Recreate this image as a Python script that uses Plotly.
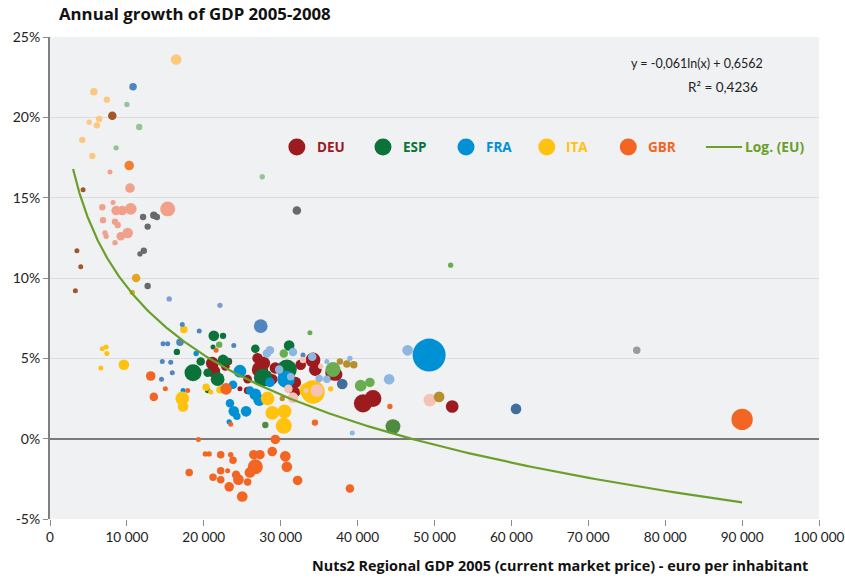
import numpy as np
import plotly.graph_objects as go

# GDP per inhabitant 2005 (euro), annual GDP growth 2005-2008 (%), population (millions)
deu_x = [21100, 21300, 22800, 23200, 24700, 25700, 25700, 27000, 27300, 27800, 28200, 28900,
         29300, 30600, 30800, 31900, 32000, 32600, 34200, 34500, 36800, 37200, 40700, 42000,
         52300, 30800, 31700]
deu_y = [4.7, 4.2, 4.5, 4.8, 3.1, 3.7, 3.0, 5.0, 4.3, 4.7, 3.9, 3.7,
         4.4, 4.3, 3.7, 3.5, 2.9, 4.6, 4.9, 4.3, 4.1, 4.0, 2.2, 2.5,
         2.0, 3.6, 3.0]
deu_pop = [1.7, 1.7, 0.8, 0.6, 0.2, 0.8, 0.6, 1.2, 2.8, 1.7, 1.2, 1.2,
           1.4, 1.0, 1.0, 1.4, 0.8, 1.2, 2.3, 1.7, 2.5, 1.7, 3.5, 3.0,
           1.7, 1.0, 1.0]

esp_x = [21300, 22500, 16500, 19600, 18600, 20500, 21800, 22500, 23100, 20500, 26700, 31100,
         27700, 30800, 21200]
esp_y = [6.4, 6.4, 5.4, 4.8, 4.1, 4.1, 3.7, 4.9, 4.8, 3.0, 5.6, 5.8,
         3.8, 4.3, 5.7]
esp_pop = [1.2, 0.43, 0.43, 0.77, 3.06, 0.77, 2.0, 1.2, 0.6, 0.3, 0.77, 1.2,
           3.5, 4.2, 0.05]

fra_x = [19000, 24700, 23400, 23900, 24300, 25500, 23800, 26000, 26700, 27200, 30700, 23300,
         49300, 17300, 28600]
fra_y = [5.3, 4.2, 2.2, 1.7, 1.4, 1.7, 3.35, 3.0, 2.75, 2.4, 3.7, 1.05,
         5.2, 3.0, 3.5]
fra_pop = [0.3, 1.7, 0.77, 1.2, 0.59, 1.2, 0.77, 0.77, 1.45, 1.45, 3.2, 0.3,
           11.5, 0.2, 1.0]

ita_x = [17400, 20300, 20900, 22100, 17200, 17300, 28300, 28900, 30500, 30400, 33400, 34200,
         36500, 9600, 6800, 7300, 7400, 6600]
ita_y = [6.8, 3.2, 2.9, 3.05, 2.5, 2.0, 2.5, 1.6, 1.7, 0.8, 3.0, 2.9,
         3.1, 4.6, 5.6, 5.7, 5.3, 4.4]
ita_pop = [0.59, 0.59, 0.19, 0.59, 2.0, 1.2, 2.0, 2.0, 2.0, 2.7, 2.3, 5.8,
           0.3, 1.2, 0.15, 0.15, 0.15, 0.1]

gbr_x = [13100, 13500, 15000, 17900, 22900, 21600, 23500, 34450, 44200, 90000, 19300, 29300,
         20200, 20700, 22200, 23500, 23800, 26500, 27300, 28900, 30600, 30800, 18100, 22200,
         23100, 21200, 22200, 24200, 24500, 26700, 26000, 25700, 23300, 25000, 32200, 39000]
gbr_y = [3.9, 2.6, 3.1, 3.0, 3.1, 5.5, 0.9, 1.0, 2.0, 1.2, -0.05, -0.05,
         -0.95, -0.95, -1.0, -1.0, -1.35, -1.0, -1.0, -0.8, -1.1, -1.75, -2.1, -2.0,
         -2.0, -2.4, -2.55, -2.25, -2.55, -1.75, -2.1, -2.7, -3.0, -3.6, -2.6, -3.1]
gbr_pop = [0.97, 0.77, 0.19, 0.19, 1.45, 0.1, 0.19, 0.43, 0.3, 4.8, 0.1, 0.97,
           0.3, 0.3, 0.59, 0.3, 0.59, 0.97, 0.97, 0.97, 1.2, 1.2, 0.59, 0.59,
           0.19, 0.59, 0.59, 0.77, 1.2, 2.35, 1.2, 0.59, 0.97, 1.2, 0.97, 0.77]

# other EU regions, grouped by colour
lightorange_x = [16400, 5700, 7400, 6400, 5100, 6100, 4200, 5500]
lightorange_y = [23.6, 21.6, 21.1, 19.9, 19.7, 19.5, 18.6, 17.6]
lightorange_pop = [1.2, 0.59, 0.43, 0.43, 0.3, 0.43, 0.43, 0.43]

lightgreen_x = [10000, 11600, 8600, 27600]
lightgreen_y = [20.8, 19.4, 18.1, 16.3]
lightgreen_pop = [0.3, 0.43, 0.3, 0.3]

brown_x = [8100, 4300, 3500, 4000, 3300]
brown_y = [20.1, 15.5, 11.7, 10.7, 9.2]
brown_pop = [0.77, 0.1, 0.15, 0.15, 0.08]

orange2_x = [10300]
orange2_y = [17.0]
orange2_pop = [0.97]

salmon_x = [7800, 10400, 15300, 10500, 8600, 9400, 6800, 8200, 6900, 8450, 8800, 10100,
            9200, 7150, 7300, 8450]
salmon_y = [16.6, 15.6, 14.3, 14.3, 14.2, 14.2, 14.4, 14.7, 13.6, 13.5, 13.3, 12.8,
            12.6, 12.8, 12.6, 12.2]
salmon_pop = [0.19, 0.97, 2.35, 1.45, 0.97, 0.97, 0.43, 0.19, 0.43, 0.43, 0.43, 1.2,
              0.77, 0.3, 0.3, 0.3]

darkgray_x = [12100, 13500, 13900, 12700, 12200, 11700, 12700, 32100]
darkgray_y = [13.8, 13.9, 13.8, 13.2, 11.7, 11.5, 9.5, 14.2]
darkgray_pop = [0.43, 0.59, 0.43, 0.43, 0.43, 0.3, 0.43, 0.77]

lightgray_x = [76300]
lightgray_y = [5.5]
lightgray_pop = [0.59]

goldyellow_x = [11200, 10700]
goldyellow_y = [10.0, 9.1]
goldyellow_pop = [0.77, 0.3]

periwinkle_x = [15500, 22100]
periwinkle_y = [8.7, 8.3]
periwinkle_pop = [0.3, 0.3]

steelblue_x = [10800, 27400, 17200, 19400, 14700, 15300, 16900, 23900, 14600, 15700, 15900,
               14500, 32900]
steelblue_y = [21.9, 7.0, 7.1, 6.7, 5.9, 5.9, 6.0, 5.8, 4.8, 4.75, 4.1, 3.7, 5.2]
steelblue_pop = [0.59, 2.0, 0.05, 0.1, 0.19, 0.19, 0.59, 0.19, 0.1, 0.19, 0.19, 0.08, 0.25]

lightblue_x = [28200, 28600, 31600, 29800, 31300, 34100, 36000, 39000, 44100, 46500, 35000,
               39300, 36000]
lightblue_y = [5.3, 5.5, 5.4, 4.3, 3.85, 5.1, 3.7, 5.0, 3.7, 5.5, 3.75, 0.35, 4.8]
lightblue_pop = [0.77, 0.77, 0.77, 0.77, 0.59, 0.77, 0.59, 0.3, 1.2, 1.2, 0.59, 0.02, 0.25]

palepink_x = [31000, 31600, 34700, 49400, 32900, 35200, 33300]
palepink_y = [3.1, 2.55, 3.0, 2.4, 4.9, 4.5, 3.0]
palepink_pop = [0.77, 1.2, 1.7, 1.72, 0.43, 0.3, 0.2]

gold_x = [37700, 38600, 39500, 50600, 30200]
gold_y = [4.8, 4.65, 4.6, 2.6, 2.5]
gold_pop = [0.43, 0.59, 0.59, 1.2, 0.3]

midgreen_x = [22000, 33800, 52100, 30400, 36800, 40400, 41600]
midgreen_y = [5.85, 6.6, 10.8, 5.3, 4.3, 3.3, 3.5]
midgreen_pop = [0.43, 0.19, 0.3, 0.77, 2.35, 1.45, 0.97]

darkgreen2_x = [44600, 28000]
darkgreen2_y = [0.75, 0.85]
darkgreen2_pop = [2.35, 0.43]

darksteel_x = [38000, 60600]
darksteel_y = [3.4, 1.85]
darksteel_pop = [1.2, 1.2]

# logarithmic trend fitted over all EU regions: y = -0.061 ln(x) + 0.6562
trend_a, trend_b = -0.061, 0.6562
trend_xmin, trend_xmax = 3000, 90000

font_family = "Lato, 'Open Sans', sans-serif"
bold_family = "'Open Sans', sans-serif"
# an 11.5 M region is drawn about 33 px across
SIZEREF = 11.5 * 2 / 33 ** 2

main_series = [
    ("DEU", deu_x, deu_y, deu_pop, "#9b1b1f"),
    ("ESP", esp_x, esp_y, esp_pop, "#0b7339"),
    ("FRA", fra_x, fra_y, fra_pop, "#0091d4"),
    ("ITA", ita_x, ita_y, ita_pop, "#ffc20e"),
    ("GBR", gbr_x, gbr_y, gbr_pop, "#f26522"),
]
other_series = [
    (lightorange_x, lightorange_y, lightorange_pop, "#fdc87d"),
    (lightgreen_x, lightgreen_y, lightgreen_pop, "#93c593"),
    (brown_x, brown_y, brown_pop, "#a4552a"),
    (orange2_x, orange2_y, orange2_pop, "#f27f30"),
    (salmon_x, salmon_y, salmon_pop, "#f1a08a"),
    (darkgray_x, darkgray_y, darkgray_pop, "#6a6a6c"),
    (lightgray_x, lightgray_y, lightgray_pop, "#9b9b9b"),
    (goldyellow_x, goldyellow_y, goldyellow_pop, "#e2a623"),
    (periwinkle_x, periwinkle_y, periwinkle_pop, "#7e9dd6"),
    (steelblue_x, steelblue_y, steelblue_pop, "#4f86c2"),
    (lightblue_x, lightblue_y, lightblue_pop, "#8db6e0"),
    (palepink_x, palepink_y, palepink_pop, "#f5c3b5"),
    (gold_x, gold_y, gold_pop, "#b78f2c"),
    (midgreen_x, midgreen_y, midgreen_pop, "#6aad50"),
    (darkgreen2_x, darkgreen2_y, darkgreen2_pop, "#4e8b40"),
    (darksteel_x, darksteel_y, darksteel_pop, "#3f6e9c"),
]

fig = go.Figure()

def bubbles(x, y, pop, color, name):
    fig.add_trace(go.Scatter(
        x=x, y=y, mode="markers", name=name, showlegend=False,
        marker=dict(size=pop, sizemode="area", sizeref=SIZEREF, sizemin=2.5,
                    color=color, opacity=1, line=dict(width=0)),
    ))

for name, x, y, pop, color in main_series:
    bubbles(x, y, pop, color, name)
for i, (x, y, pop, color) in enumerate(other_series):
    bubbles(x, y, pop, color, f"other{i}")

tx = np.geomspace(trend_xmin, trend_xmax, 300)
ty = 100 * (trend_a * np.log(tx) + trend_b)
fig.add_trace(go.Scatter(x=tx, y=ty, mode="lines", showlegend=False,
                         line=dict(color="#6a9f2a", width=2.2)))

# legend row drawn inside the plot area
legend_y = 0.772
legend_items = [("DEU", "#9b1b1f", 0.321), ("ESP", "#0b7339", 0.433),
                ("FRA", "#0091d4", 0.541), ("ITA", "#ffc20e", 0.646),
                ("GBR", "#f26522", 0.752)]
shapes = []
annotations = []
for label, color, xp in legend_items:
    shapes.append(dict(type="circle", xref="paper", yref="paper",
                       xsizemode="pixel", ysizemode="pixel", xanchor=xp, yanchor=legend_y,
                       x0=-8.5, x1=8.5, y0=-8.5, y1=8.5,
                       fillcolor=color, line=dict(width=0)))
    annotations.append(dict(text=f"<b>{label}</b>", xref="paper", yref="paper",
                            x=xp + 0.023, y=legend_y, xanchor="left", yanchor="middle",
                            showarrow=False, font=dict(size=13.5, color=color, family=bold_family)))
shapes.append(dict(type="line", xref="paper", yref="paper", x0=0.853, x1=0.9,
                   y0=legend_y, y1=legend_y, line=dict(color="#6a9f2a", width=2)))
annotations.append(dict(text="<b>Log. (EU)</b>", xref="paper", yref="paper",
                        x=0.901, y=legend_y, xanchor="left", yanchor="middle",
                        showarrow=False, font=dict(size=13.8, color="#6a9f2a", family=bold_family)))

annotations += [
    dict(text="y = -0,061ln(x) + 0,6562", xref="paper", yref="paper", x=0.930, y=0.946,
         xanchor="right", yanchor="middle", showarrow=False,
         font=dict(size=12.5, color="#222222", family=font_family)),
    dict(text="R² = 0,4236", xref="paper", yref="paper", x=0.923, y=0.896,
         xanchor="right", yanchor="middle", showarrow=False,
         font=dict(size=13.5, color="#222222", family=font_family)),
    dict(text="<b>Annual growth of GDP 2005-2008</b>", xref="paper", yref="paper",
         x=0.009, y=1.048, xanchor="left", yanchor="middle", showarrow=False,
         font=dict(size=16.8, color="#111111", family=bold_family)),
    dict(text="<b>Nuts2 Regional GDP 2005 (current market price) - euro per inhabitant</b>",
         xref="paper", yref="paper", x=0.988, y=-0.0975, xanchor="right", yanchor="middle",
         showarrow=False, font=dict(size=14.4, color="#111111", family=bold_family)),
]

x_ticks = list(range(0, 100001, 10000))
y_ticks = [-5, 0, 5, 10, 15, 20, 25]
fig.update_layout(
    width=845, height=578,
    margin=dict(l=50, r=26, t=37, b=59, autoexpand=False),
    paper_bgcolor="white", plot_bgcolor="#f0f1f3",
    separators=", ",
    font=dict(family=font_family, size=14, color="#222222"),
    shapes=shapes, annotations=annotations,
    xaxis=dict(range=[0, 100000], tickvals=x_ticks, tickformat=",d", showgrid=False,
               zeroline=False, showline=False, ticks="outside", ticklen=6,
               tickcolor="#8a8a8a", tickfont=dict(size=13.6), ticklabeloverflow="allow",
               automargin=False),
    yaxis=dict(range=[-5, 25], tickvals=y_ticks, ticktext=[f"{v}%" for v in y_ticks],
               showgrid=True, gridcolor="#dcdde0", gridwidth=1,
               zeroline=True, zerolinecolor="#7a7a7a", zerolinewidth=2,
               showline=True, linecolor="#7f7f7f", linewidth=2, automargin=False,
               ticks="outside", ticklen=5, tickcolor="#8a8a8a", tickfont=dict(size=14)),
)

fig.write_html("out.html")
